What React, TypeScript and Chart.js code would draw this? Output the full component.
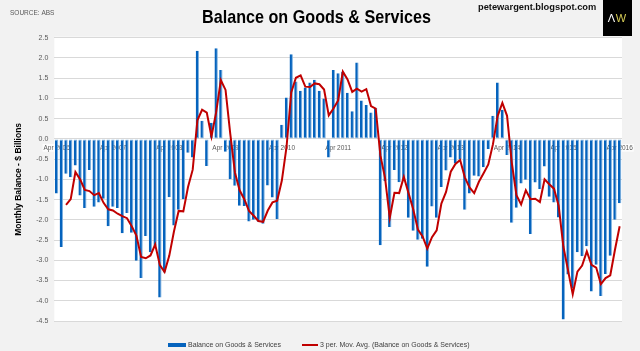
import { useEffect, useRef } from "react";
import { Chart, registerables } from "chart.js";

Chart.register(...registerables);

const MONTH_NAMES = ["Jan", "Feb", "Mar", "Apr", "May", "Jun", "Jul", "Aug", "Sep", "Oct", "Nov", "Dec"];

// Monthly categories Apr 2006 .. Apr 2016
const categories: string[] = [];
for (let i = 0; i < 121; i++) {
  const m = (3 + i) % 12;
  const y = 2006 + Math.floor((3 + i) / 12);
  categories.push(`${MONTH_NAMES[m]} ${y}`);
}

const tickLabels = [
  "Apr 2006", "Apr 2007", "Apr 2008", "Apr 2009", "Apr 2010", "Apr 2011",
  "Apr 2012", "Apr 2013", "Apr 2014", "Apr 2015", "Apr 2016",
];

const yTicks = { min: -4.5, max: 2.5, step: 0.5 };

// Balance on Goods & Services, $ billions
const balance = [
  -1.35, -2.67, -0.86, -0.95, -0.66, -1.40, -1.71, -0.77, -1.68, -1.57, -1.48, -2.16,
  -1.68, -1.71, -2.33, -1.83, -2.32, -3.01, -3.44, -2.40, -2.80, -2.64, -3.92, -3.30,
  -1.44, -2.14, -1.75, -1.49, -0.34, -0.46, 2.18, 0.45, -0.67, 0.40, 2.24, 1.70,
  -0.32, -1.00, -1.16, -1.65, -1.66, -2.04, -2.00, -2.05, -2.10, -1.15, -1.45, -1.98,
  0.35, 1.02, 2.09, 1.42, 1.19, 1.27, 1.39, 1.46, 1.19, 1.00, -0.46, 1.70,
  1.62, 1.66, 1.14, 0.68, 1.89, 0.95, 0.84, 0.65, 0.76, -2.63, -1.05, -2.18,
  -0.77, -1.07, -0.99, -1.95, -2.27, -2.49, -2.47, -3.16, -1.67, -1.95, -1.19, -0.78,
  -0.46, -0.61, -0.50, -1.75, -1.35, -0.91, -0.93, -0.70, -0.25, 0.57, 1.39, 0.72,
  -0.40, -2.07, -1.70, -1.10, -1.01, -2.35, -1.08, -1.24, -0.68, -1.43, -1.57, -1.94,
  -4.46, -3.35, -3.70, -2.80, -2.90, -2.65, -3.77, -3.11, -3.88, -3.34, -2.89, -2.00,
  -1.59,
];

// 3 per. Mov. Avg. (Balance on Goods & Services)
const movingAvg: (number | null)[] = [
  null, null, -1.63, -1.49, -0.82, -1.00, -1.26, -1.29, -1.39, -1.34, -1.58, -1.74,
  -1.77, -1.85, -1.91, -1.96, -2.16, -2.39, -2.92, -2.95, -2.88, -2.61, -3.12, -3.29,
  -2.89, -2.29, -1.78, -1.79, -1.19, -0.76, 0.46, 0.72, 0.65, 0.06, 0.66, 1.45,
  1.21, 0.13, -0.83, -1.27, -1.49, -1.78, -1.90, -2.03, -2.05, -1.77, -1.57, -1.53,
  -1.03, -0.20, 1.15, 1.51, 1.57, 1.29, 1.28, 1.37, 1.35, 1.22, 0.58, 0.75,
  0.95, 1.66, 1.47, 1.16, 1.24, 1.17, 1.23, 0.81, 0.75, -0.41, -0.97, -1.95,
  -1.33, -1.34, -0.94, -1.34, -1.74, -2.24, -2.41, -2.71, -2.43, -2.26, -1.60, -1.31,
  -0.81, -0.62, -0.52, -0.95, -1.20, -1.34, -1.06, -0.85, -0.63, -0.13, 0.57, 0.89,
  0.57, -0.58, -1.39, -1.62, -1.27, -1.49, -1.48, -1.56, -1.00, -1.12, -1.23, -1.65,
  -2.66, -3.25, -3.84, -3.28, -3.13, -2.78, -3.11, -3.18, -3.59, -3.44, -3.37, -2.74,
  -2.16,
];

const FONT = '"Liberation Sans", Arial, sans-serif';

const decorPlugin = {
  id: "decor",
  beforeDraw(chart: any) {
    const { ctx, chartArea: a, width, height } = chart;
    ctx.save();
    ctx.fillStyle = "#f2f2f2";
    ctx.fillRect(0, 0, width, height);
    ctx.fillStyle = "#ffffff";
    ctx.fillRect(a.left, a.top - 1, a.right - a.left, a.bottom - a.top + 1.5);
    ctx.restore();
  },
  afterDraw(chart: any) {
    const { ctx } = chart;
    ctx.save();
    // Title (slightly condensed)
    ctx.save();
    ctx.fillStyle = "#000000";
    ctx.font = `bold 19px ${FONT}`;
    ctx.textAlign = "center";
    ctx.textBaseline = "alphabetic";
    ctx.translate(316.5, 23);
    ctx.scale(0.85, 1);
    ctx.fillText("Balance on Goods & Services", 0, 0);
    ctx.restore();
    // Source
    ctx.font = `6.5px ${FONT}`;
    ctx.fillStyle = "#595959";
    ctx.textAlign = "left";
    ctx.textBaseline = "middle";
    ctx.fillText("SOURCE: ABS", 10, 13.5);
    // Website
    ctx.font = `bold 9.3px ${FONT}`;
    ctx.fillStyle = "#111111";
    ctx.fillText("petewargent.blogspot.com", 478, 7);
    // Logo
    ctx.fillStyle = "#000000";
    ctx.fillRect(603, 0, 29, 36);
    ctx.font = `11px ${FONT}`;
    ctx.textAlign = "center";
    ctx.fillStyle = "#ffffff";
    ctx.fillText("\u039B", 611.5, 18.5);
    ctx.fillStyle = "#d6cc55";
    ctx.fillText("W", 621, 18.5);
    // Legend
    const ds = chart.data.datasets;
    ctx.textAlign = "left";
    ctx.font = `7px ${FONT}`;
    ctx.fillStyle = "#0563bd";
    ctx.fillRect(168, 343, 18, 4);
    ctx.fillStyle = "#404040";
    ctx.fillText(ds[0].label, 188, 345.5);
    ctx.strokeStyle = "#c00000";
    ctx.lineWidth = 2;
    ctx.beginPath();
    ctx.moveTo(302, 345);
    ctx.lineTo(318, 345);
    ctx.stroke();
    ctx.fillText(ds[1].label, 320, 345.5);
    ctx.restore();
  },
};

export default function App() {
  const ref = useRef<HTMLCanvasElement | null>(null);

  useEffect(() => {
    if (!ref.current) return;
    const chart = new Chart(ref.current, {
      type: "bar",
      data: {
        labels: categories,
        datasets: [
          {
            type: "bar",
            label: "Balance on Goods & Services",
            data: balance,
            backgroundColor: "#0563bd",
            borderColor: "#7fb2e0",
            borderWidth: { top: 1, bottom: 1, left: 0, right: 1 },
            borderSkipped: "end",
            barPercentage: 0.72,
            categoryPercentage: 1,
            order: 2,
          },
          {
            type: "line",
            label: "3 per. Mov. Avg. (Balance on Goods & Services)",
            data: movingAvg,
            borderColor: "#c00000",
            borderWidth: 2,
            pointRadius: 0,
            tension: 0,
            fill: false,
            order: 1,
          },
        ],
      } as any,
      options: {
        responsive: false,
        animation: false,
        devicePixelRatio: 1,
        layout: { padding: { left: 8, right: 18, top: 37.7, bottom: 30 } },
        plugins: {
          legend: { display: false },
          tooltip: { enabled: false },
          title: { display: false },
        },
        scales: {
          x: {
            position: { y: 0 } as any,
            offset: true,
            z: 1,
            grid: { display: false, drawTicks: false },
            border: { display: false },
            ticks: {
              autoSkip: false,
              maxRotation: 0,
              minRotation: 0,
              padding: 5,
              color: "#595959",
              font: { family: FONT, size: 6.5 },
              showLabelBackdrop: (c: any) => tickLabels.includes(categories[c.index]),
              backdropColor: "rgba(255,255,255,0.75)",
              backdropPadding: { top: 0, bottom: 0, left: 1, right: 1 },
              callback: (_v: any, i: number) =>
                tickLabels.includes(categories[i]) ? categories[i] : "",
            } as any,
          },
          y: {
            min: yTicks.min,
            max: yTicks.max,
            afterFit: (s: any) => {
              s.width = 46.3;
            },
            grid: { color: "#d9d9d9", lineWidth: 1, drawTicks: false },
            border: { display: false },
            ticks: {
              stepSize: yTicks.step,
              padding: 6,
              color: "#595959",
              font: { family: FONT, size: 7 },
              callback: (v: any) => Number(v).toFixed(1),
            },
            title: {
              display: true,
              text: "Monthly Balance - $ Billions",
              color: "#000000",
              font: { family: FONT, size: 8.5, weight: "bold" },
              padding: { top: 6, bottom: 0 },
            },
          },
        },
      },
      plugins: [decorPlugin],
    });
    return () => chart.destroy();
  }, []);

  return (
    <div style={{ position: "fixed", left: 0, top: 0, width: 640, height: 351 }}>
      <canvas ref={ref} width={640} height={351} />
    </div>
  );
}
